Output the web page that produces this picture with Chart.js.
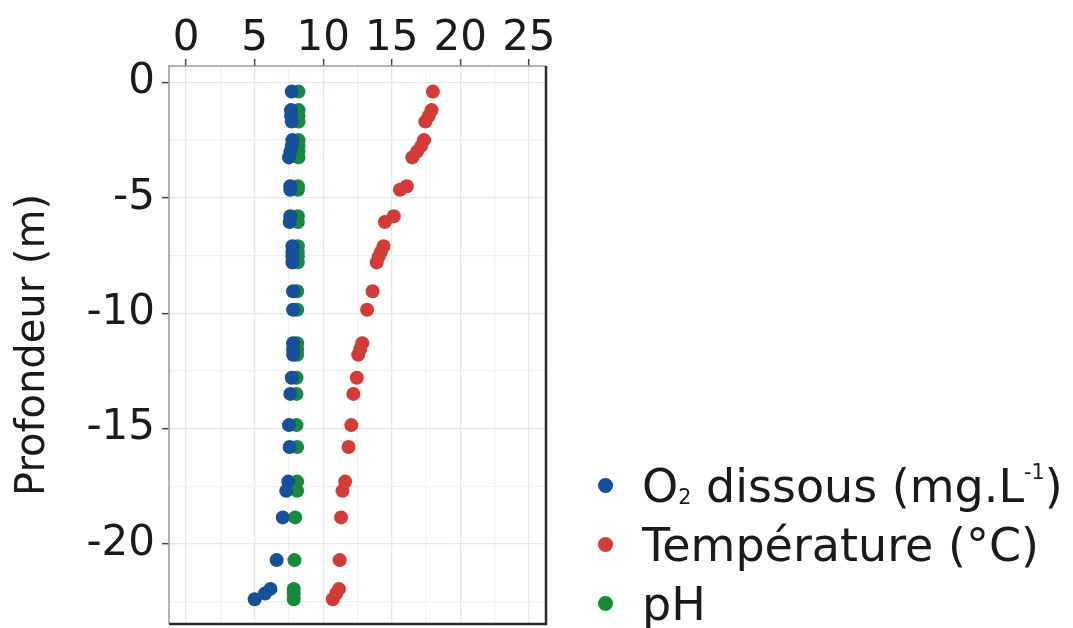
<!DOCTYPE html>
<html>
<head>
<meta charset="utf-8">
<script src="https://cdn.jsdelivr.net/npm/chart.js@4"></script>
<style>
  html, body { margin: 0; padding: 0; background: #fff; }
  #wrap { position: relative; width: 1073px; height: 628px; }
  #legend {
    position: absolute; left: 590px; top: 456px;
    font-family: 'DejaVu Sans', sans-serif; font-size: 46px; color: #1a1a1a;
  }
  .row { display: flex; align-items: center; height: 59px; white-space: nowrap; }
  .dot { width: 15px; height: 15px; border-radius: 50%; margin: 0 29px 0 8px; flex: none; }
  sub { font-size: 0.45em; vertical-align: -0.1em; }
  sup { font-size: 0.45em; vertical-align: 1.1em; }
</style>
</head>
<body>
<div id="wrap">
  <canvas id="chart" width="1073" height="628"></canvas>
  <div id="legend"></div>
</div>
<script>
// profile depths (m) shared by the three measured series
const depths = [-0.4, -1.2, -1.45, -1.7, -2.5, -2.75, -3.0, -3.25, -4.5, -4.65,
  -5.8, -6.05, -7.1, -7.35, -7.55, -7.8, -9.05, -9.85, -11.3, -11.55,
  -11.8, -12.8, -13.5, -14.85, -15.8, -17.3, -17.7, -18.85, -20.7, -21.95,
  -22.15, -22.4]

const o2Values = [7.7, 7.65, 7.65, 7.7, 7.75, 7.7, 7.6, 7.5, 7.6, 7.6,
  7.6, 7.55, 7.75, 7.75, 7.75, 7.75, 7.8, 7.8, 7.8, 7.8,
  7.8, 7.7, 7.6, 7.5, 7.55, 7.45, 7.3, 7.05, 6.6, 6.15,
  5.75, 5.0]

const temperatureValues = [18.0, 17.9, 17.7, 17.45, 17.35, 17.15, 16.85, 16.5, 16.1, 15.6,
  15.15, 14.5, 14.4, 14.2, 14.05, 13.9, 13.6, 13.2, 12.85, 12.7,
  12.55, 12.45, 12.2, 12.05, 11.85, 11.6, 11.4, 11.3, 11.2, 11.15,
  10.95, 10.7]

const phValues = [8.2, 8.2, 8.2, 8.2, 8.2, 8.2, 8.2, 8.2, 8.15, 8.15,
  8.15, 8.15, 8.15, 8.15, 8.15, 8.15, 8.1, 8.1, 8.1, 8.1,
  8.1, 8.05, 8.05, 8.05, 8.1, 8.1, 8.1, 7.95, 7.9, 7.85,
  7.85, 7.85]

const seriesLabels = ['O<sub>2</sub> dissous (mg.L<sup>-1</sup>)', 'Température (°C)', 'pH']
const seriesColors = ['#164f9a', '#d43a36', '#178a3c']

const xTickLabels = [0, 5, 10, 15, 20, 25]
const xGridValues = [0, 2.5, 5, 7.5, 10, 12.5, 15, 17.5, 20, 22.5, 25]
const yTickLabels = [0, -5, -10, -15, -20]
const yGridValues = [0, -2.5, -5, -7.5, -10, -12.5, -15, -17.5, -20, -22.5]

const FONT = "'DejaVu Sans', sans-serif"

function toPoints(values) {
  return depths.map((d, i) => ({ x: values[i], y: d }))
}

// panel frame: light on top/left, dark on right/bottom
const panelBorder = {
  id: 'panelBorder',
  afterDatasetsDraw(chart) {
    const { ctx, chartArea: a } = chart
    ctx.save()
    ctx.lineWidth = 1.5
    ctx.strokeStyle = '#9a9a9a'
    ctx.beginPath()
    ctx.moveTo(a.left, a.bottom)
    ctx.lineTo(a.left, a.top)
    ctx.lineTo(a.right, a.top)
    ctx.stroke()
    ctx.lineWidth = 2.5
    ctx.strokeStyle = '#2b2b2b'
    ctx.beginPath()
    ctx.moveTo(a.right, a.top)
    ctx.lineTo(a.right, a.bottom)
    ctx.lineTo(a.left, a.bottom)
    ctx.stroke()
    ctx.restore()
  }
}

function gridColor(ticks) {
  return c => (c.tick && ticks.includes(c.tick.value)) ? '#e4e8e8' : '#f0f2f2'
}
function tickMarkColor(ticks) {
  return c => (c.tick && ticks.includes(c.tick.value)) ? '#444' : 'rgba(0,0,0,0)'
}

const datasets = [o2Values, temperatureValues, phValues].map((vals, i) => ({
  label: seriesLabels[i],
  data: toPoints(vals),
  backgroundColor: seriesColors[i],
  borderColor: seriesColors[i],
  borderWidth: 0,
  pointRadius: 7,
  pointHoverRadius: 7
}))

new Chart(document.getElementById('chart'), {
  type: 'scatter',
  data: { datasets },
  options: {
    responsive: false,
    animation: false,
    layout: { autoPadding: false, padding: { left: 0, top: 4, right: 527, bottom: 4 } },
    plugins: { legend: { display: false }, tooltip: { enabled: false } },
    scales: {
      x: {
        type: 'linear',
        position: 'top',
        min: -1.25,
        max: 26.25,
        afterBuildTicks: s => { s.ticks = xGridValues.map(v => ({ value: v })) },
        afterFit: s => { s.height = 62; s.paddingLeft = 0; s.paddingRight = 0 },
        ticks: {
          autoSkip: false,
          maxRotation: 0,
          padding: -5,
          color: '#1a1a1a',
          font: { family: FONT, size: 42 },
          callback: v => xTickLabels.includes(v) ? String(v) : ''
        },
        grid: {
          color: gridColor(xTickLabels),
          lineWidth: 1.3,
          tickLength: 7,
          tickColor: tickMarkColor(xTickLabels),
          tickWidth: 1.5
        },
        border: { display: false }
      },
      y: {
        type: 'linear',
        min: -23.47,
        max: 0.71,
        afterBuildTicks: s => { s.ticks = yGridValues.map(v => ({ value: v })) },
        afterFit: s => { s.width = 169; s.paddingTop = 0; s.paddingBottom = 0 },
        ticks: {
          autoSkip: false,
          padding: 7,
          color: '#1a1a1a',
          font: { family: FONT, size: 42 },
          callback: v => yTickLabels.includes(v) ? String(v) : ''
        },
        grid: {
          color: gridColor(yTickLabels),
          lineWidth: 1.3,
          tickLength: 7,
          tickColor: tickMarkColor(yTickLabels),
          tickWidth: 1.5
        },
        border: { display: false },
        title: {
          display: true,
          text: 'Profondeur (m)',
          color: '#1a1a1a',
          font: { family: FONT, size: 40 },
          padding: { top: 10, bottom: 0 }
        }
      }
    }
  },
  plugins: [panelBorder]
})

// legend drawn as html so the sub/superscripts stay real text
const legend = document.getElementById('legend')
seriesLabels.forEach((label, i) => {
  const row = document.createElement('div')
  row.className = 'row'
  const dot = document.createElement('span')
  dot.className = 'dot'
  dot.style.background = seriesColors[i]
  const text = document.createElement('span')
  text.innerHTML = label
  row.appendChild(dot)
  row.appendChild(text)
  legend.appendChild(row)
})
</script>
</body>
</html>
